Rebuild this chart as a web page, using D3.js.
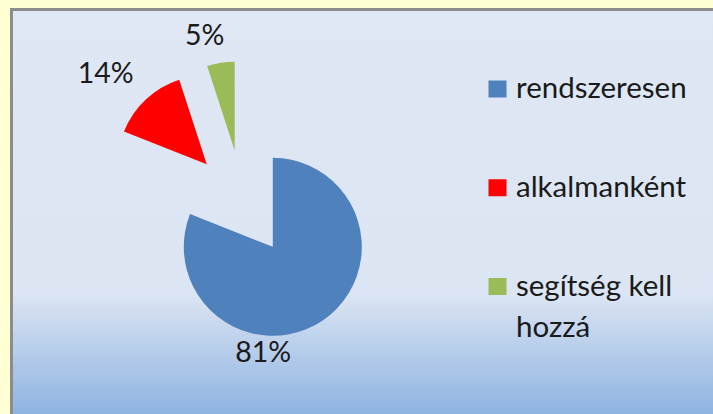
<!DOCTYPE html>
<html>
<head>
<meta charset="utf-8">
<script src="https://cdn.jsdelivr.net/npm/d3@7"></script>
<style>
  html, body { margin: 0; padding: 0; background: #ffffd3; }
  svg { display: block; }
</style>
</head>
<body>
<div id="chart"></div>
<script>
const categories = ["rendszeresen", "alkalmanként", "segítség kell hozzá"];
const values = [81, 14, 5];
const labels = ["81%", "14%", "5%"];
const legendLines = [["rendszeresen"], ["alkalmanként"], ["segítség kell", "hozzá"]];
const colors = ["#4f81bd", "#ff0000", "#9bbb59"];

// label placement: angle shift from slice middle (deg) and distance from pie centre
const labelPlace = [[26.5, 150], [-3.4, 189], [-3.9, 172]];

const width = 713, height = 414;
const cx = 243, cy = 203, radius = 89, explode = 53;

const svg = d3.select("#chart")
  .append("svg")
  .attr("width", width)
  .attr("height", height);

const defs = svg.append("defs");
const grad = defs.append("linearGradient")
  .attr("id", "bg")
  .attr("gradientUnits", "userSpaceOnUse")
  .attr("x1", 0).attr("y1", 11).attr("x2", 0).attr("y2", 414);
grad.append("stop").attr("offset", "0").attr("stop-color", "#dfe7f4");
grad.append("stop").attr("offset", "0.7").attr("stop-color", "#dce5f3");
grad.append("stop").attr("offset", "1").attr("stop-color", "#8eb3e2");

// chart frame
svg.append("rect")
  .attr("x", 11.5).attr("y", 9.5)
  .attr("width", width + 10).attr("height", height + 10)
  .attr("fill", "url(#bg)")
  .attr("stroke", "#8c8c8c")
  .attr("stroke-width", 3);

const pie = d3.pie().sort(null).value(d => d)(values);
const arc = d3.arc().innerRadius(0).outerRadius(radius);

const mid = d => (d.startAngle + d.endAngle) / 2;

svg.append("g")
  .attr("transform", `translate(${cx},${cy})`)
  .selectAll("path")
  .data(pie)
  .join("path")
  .attr("transform", d => `translate(${Math.sin(mid(d)) * explode},${-Math.cos(mid(d)) * explode})`)
  .attr("d", arc)
  .attr("fill", (d, i) => colors[i]);

const font = "Lato, 'Open Sans', sans-serif";

svg.append("g")
  .attr("transform", `translate(${cx},${cy})`)
  .selectAll("text")
  .data(pie)
  .join("text")
  .attr("x", (d, i) => Math.sin(mid(d) + labelPlace[i][0] * Math.PI / 180) * labelPlace[i][1])
  .attr("y", (d, i) => -Math.cos(mid(d) + labelPlace[i][0] * Math.PI / 180) * labelPlace[i][1])
  .attr("dy", "0.35em")
  .attr("text-anchor", "middle")
  .attr("font-family", font)
  .attr("font-size", 28.5)
  .attr("fill", "#1a1a1a")
  .text((d, i) => labels[i]);

// legend
const ly = d3.scalePoint(categories, [80.5, 278]);

const legend = svg.selectAll(".legend-group")
  .data(categories)
  .join("g")
  .attr("class", "legend-group");

legend.append("rect")
  .attr("x", 488.5)
  .attr("y", d => ly(d))
  .attr("width", 18)
  .attr("height", 17)
  .attr("fill", (d, i) => colors[i]);

legend.append("text")
  .attr("font-family", font)
  .attr("font-size", 29.5)
  .attr("fill", "#1a1a1a")
  .selectAll("tspan")
  .data((d, i) => legendLines[i].map(t => ({t, y: ly(d)})))
  .join("tspan")
  .attr("x", 516)
  .attr("y", (d, j) => d.y + 17.5 + j * 41)
  .text(d => d.t);
</script>
</body>
</html>
